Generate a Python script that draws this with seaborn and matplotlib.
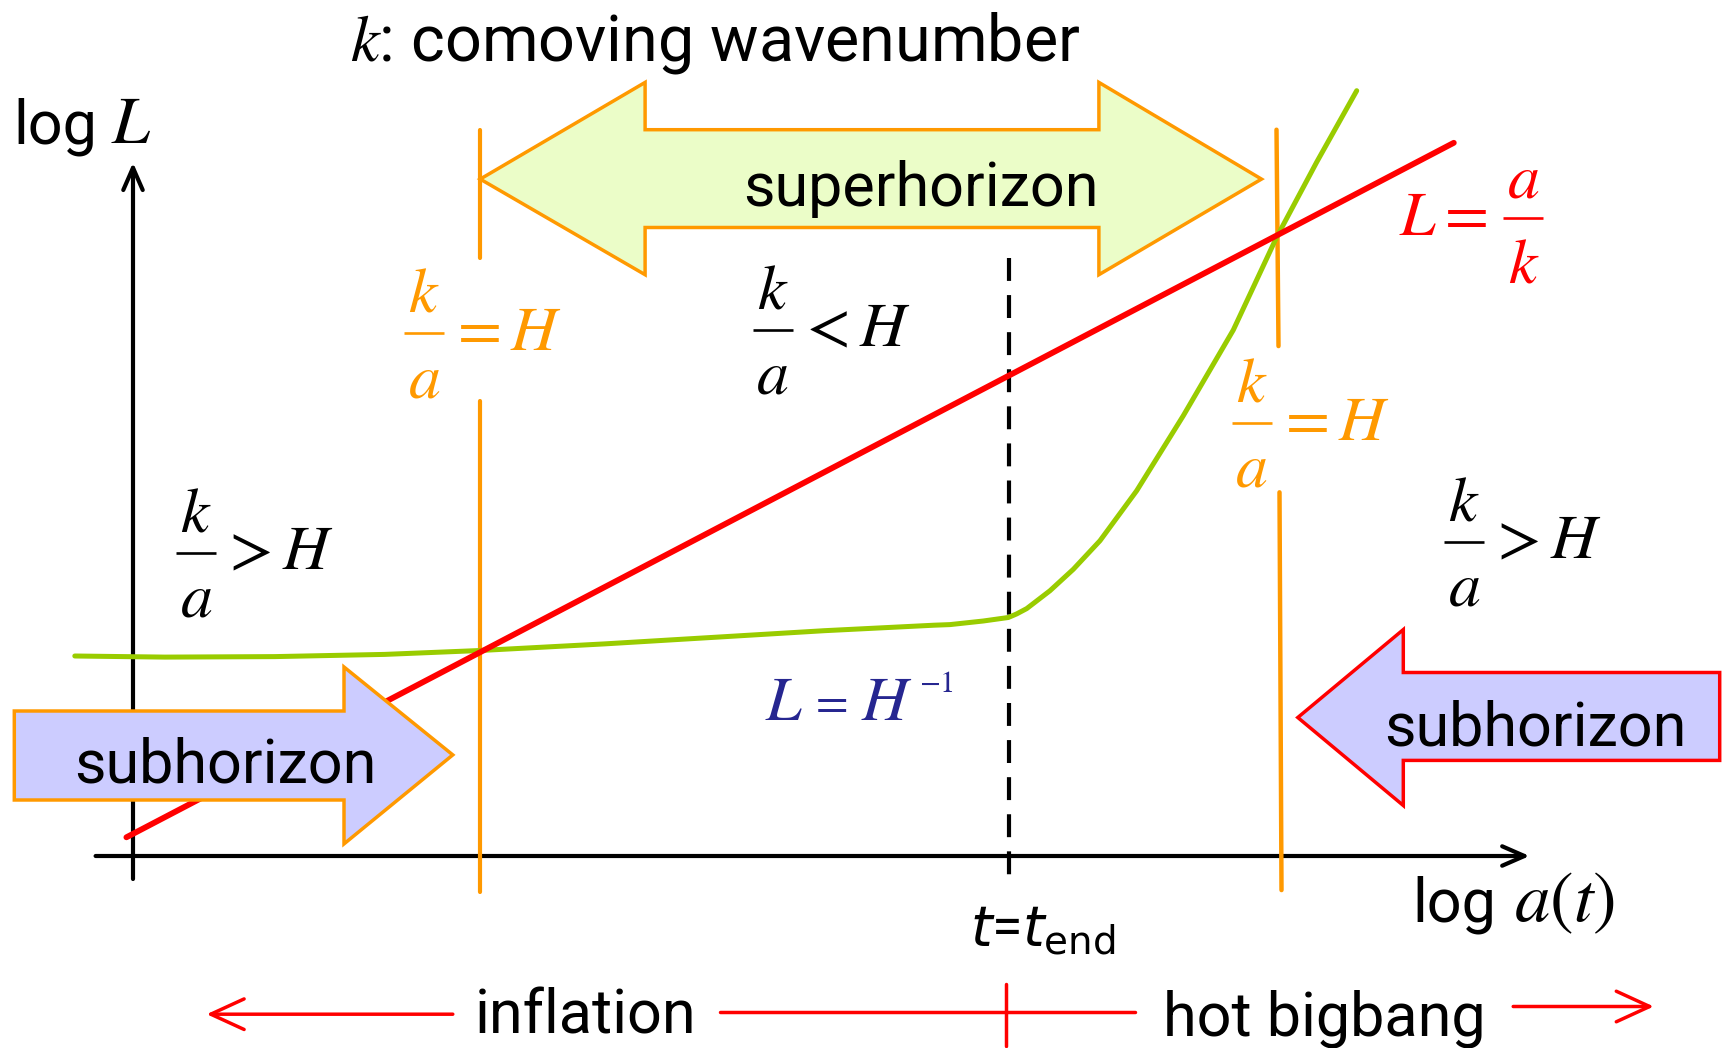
import numpy as np
import pandas as pd
import matplotlib
matplotlib.use("Agg")
import matplotlib.pyplot as plt
import seaborn as sns
from matplotlib.patches import Polygon

# ---------------- data (diagram units: origin at axis crossing; x = log a, y = log L) -------------
red_loga = [-6.6, 1320.8]            # L = a/k
red_logL = [18.7, 713.2]

green_loga = [-58.2, 31.9, 141.8, 251.6, 347.2, 471.4, 581.3, 691.2, 801.1, 817.0, 850.3, 875.3,
              883.7, 893.7, 917.0, 940.3, 967.0, 1003.7, 1050.3, 1100.3, 1143.7, 1183.7, 1223.7]
green_logL = [200.0, 198.9, 199.4, 201.6, 205.5, 212.1, 218.7, 225.3, 230.8, 231.4, 235.0, 238.5,
              242.1, 247.4, 265.3, 286.7, 315.3, 365.3, 440.3, 526.0, 618.9, 693.9, 765.3]

cross_exit = 347.2        # k/a = H (horizon exit)
cross_reentry = 1145.0    # k/a = H (re-entry)
t_end = 875.8

# ---------------- style ----------------
sns.set_theme(style="white")
plt.rcParams['font.family'] = ['Roboto', 'DejaVu Sans']
plt.rcParams['mathtext.fontset'] = 'stix'
plt.rcParams['text.color'] = 'black'

RED = '#ff0000'
GREEN = '#99cc00'
ORANGE = '#ff9900'
BLUE = '#262690'

fig = plt.figure(figsize=(17.23, 10.48), dpi=100)
ax = fig.add_axes([0, 0, 1, 1])

# curves
df_red = pd.DataFrame({'loga': red_loga, 'logL': red_logL})
df_green = pd.DataFrame({'loga': green_loga, 'logL': green_logL})
sns.lineplot(data=df_green, x='loga', y='logL', sort=False, color=GREEN, lw=3.6, ax=ax, zorder=4)
sns.lineplot(data=df_red, x='loga', y='logL', sort=False, color=RED, lw=4.2, ax=ax, zorder=4)
ax.set_xlim(-133, 1590)
ax.set_ylim(-192, 856)
ax.axis('off')

# axes with arrows
ax.annotate('', xy=(0, 693.4), xytext=(0, -23), zorder=2,
            arrowprops=dict(arrowstyle='->,head_length=0.8,head_width=0.35', color='black',
                            lw=3.0, shrinkA=0, shrinkB=0, mutation_scale=20))
ax.annotate('', xy=(1396.6, 0), xytext=(-37.4, 0), zorder=2,
            arrowprops=dict(arrowstyle='->,head_length=0.8,head_width=0.35', color='black',
                            lw=3.0, shrinkA=0, shrinkB=0, mutation_scale=20))

# superhorizon double arrow
sup = Polygon([(347.2, 676.9), (512.1, 773.6), (512.1, 726.3), (965.9, 726.3), (965.9, 773.6),
               (1128.5, 676.9), (965.9, 581.3), (965.9, 628.5), (512.1, 628.5), (512.1, 581.3)],
              closed=True, facecolor='#ebfdc8', edgecolor=ORANGE, lw=2.5, zorder=1, joinstyle='miter')
ax.add_patch(sup)

# vertical orange lines (horizon crossing)
ax.plot([cross_exit, cross_exit], [726.3, 597.8], color=ORANGE, lw=3.0, zorder=3)
ax.plot([cross_exit, cross_exit], [454.9, -36.3], color=ORANGE, lw=3.0, zorder=3)
ax.plot([cross_reentry - 1.5, cross_reentry + 0.5], [726.3, 509.9], color=ORANGE, lw=3.2, zorder=3)
ax.plot([cross_reentry + 1.5, cross_reentry + 3.5], [363.7, -34.1], color=ORANGE, lw=3.2, zorder=3)

# dashed t_end line
ax.plot([t_end, t_end], [597.8, -23], color='black', lw=3.0, ls=(0, (5.5, 3.4)), zorder=3)

# subhorizon arrows
sub_l = Polygon([(-118.7, 145.0), (211.0, 145.0), (211.0, 189.0), (319.8, 101.1), (211.0, 12.1),
                 (211.0, 56.0), (-118.7, 56.0)], closed=True, facecolor='#ccccff', edgecolor=ORANGE,
                lw=2.5, zorder=5, joinstyle='miter')
ax.add_patch(sub_l)
sub_r = Polygon([(1164.8, 138.5), (1270.3, 226.4), (1270.3, 183.5), (1586.7, 183.5), (1586.7, 95.6),
                 (1270.3, 95.6), (1270.3, 50.5)], closed=True, facecolor='#ccccff', edgecolor=RED,
                lw=2.5, zorder=5, joinstyle='miter')
ax.add_patch(sub_r)

# ---------------- texts ----------------
SANS = 44
ax.text(216.5, 795.6, r'$k$: comoving wavenumber', fontsize=46.5, ha='left', va='baseline',
        math_fontfamily='stix')
ax.text(-119.8, 713.0, 'log', fontsize=SANS, ha='left', va='baseline')
ax.text(-22.0, 713.0, r'$L$', fontsize=49, ha='left', va='baseline')
ax.text(1279.1, -65.0, 'log', fontsize=SANS, ha='left', va='baseline')
ax.text(1381.0, -65.0, r'$a(t)$', fontsize=51, ha='left', va='baseline')
ax.text(787.9, 650.5, 'superhorizon', fontsize=SANS, ha='center', va='baseline', zorder=6)
ax.text(92.3, 73.6, 'subhorizon', fontsize=SANS, ha='center', va='baseline', zorder=6)
ax.text(1402.1, 111.0, 'subhorizon', fontsize=SANS, ha='center', va='baseline', zorder=6)
ax.text(837.3, -89.0, r'$t$=$t_{\mathrm{end}}$', fontsize=40, ha='left', va='baseline',
        math_fontfamily='dejavusans')

MATH = 46


def frac(xb, yb, num, den, rest, color, lead=None):
    ax.plot([xb, xb + 40], [yb, yb], color=color, lw=1.9, solid_capstyle='butt', zorder=6)
    ax.text(xb + 20, yb + 21, num, fontsize=MATH, color=color, ha='center', va='baseline', zorder=6)
    ax.text(xb + 20, yb - 64, den, fontsize=MATH, color=color, ha='center', va='baseline', zorder=6)
    if rest:
        ax.text(xb + 44, yb - 17, rest, fontsize=MATH, color=color, ha='left', va='baseline', zorder=6)
    if lead:
        ax.text(xb - 16, yb - 17, lead, fontsize=MATH, color=color, ha='right', va='baseline', zorder=6)


frac(271.0, 523.0, r'$k$', r'$a$', r'$=H$', ORANGE)
frac(619.7, 526.3, r'$k$', r'$a$', r'$<H$', 'black')
frac(1098.7, 433.1, r'$k$', r'$a$', r'$=H$', ORANGE)
frac(42.8, 303.3, r'$k$', r'$a$', r'$>H$', 'black')
frac(1310.9, 314.3, r'$k$', r'$a$', r'$>H$', 'black')
frac(1370.3, 637.7, r'$a$', r'$k$', None, RED, lead=r'$L=$')

ax.text(632.0, 136.0, r'$L$', fontsize=MATH, color=BLUE, ha='left', va='baseline')
ax.text(676.0, 140.0, r'$=$', fontsize=34, color=BLUE, ha='left', va='baseline')
ax.text(728.0, 136.0, r'$H$', fontsize=MATH, color=BLUE, ha='left', va='baseline')
ax.text(786.0, 164.0, r'$-1$', fontsize=22, color=BLUE, ha='left', va='baseline')

# timeline
ax.annotate('', xy=(73.6, -158.2), xytext=(319.8, -158.2),
            arrowprops=dict(arrowstyle='->,head_length=1.2,head_width=0.55', color=RED, lw=2.5,
                            shrinkA=0, shrinkB=0, mutation_scale=20))
ax.plot([586.8, 1002.2], [-156.0, -156.0], color=RED, lw=2.5)
ax.plot([872.5, 872.5], [-127.5, -190.0], color=RED, lw=2.5)
ax.annotate('', xy=(1520.8, -150.5), xytext=(1380.2, -150.5),
            arrowprops=dict(arrowstyle='->,head_length=1.2,head_width=0.55', color=RED, lw=2.5,
                            shrinkA=0, shrinkB=0, mutation_scale=20))
ax.text(452.7, -177.0, 'inflation', fontsize=SANS, ha='center', va='baseline')
ax.text(1191.2, -179.0, 'hot bigbang', fontsize=SANS, ha='center', va='baseline')

fig.savefig('out.png', dpi=100)
